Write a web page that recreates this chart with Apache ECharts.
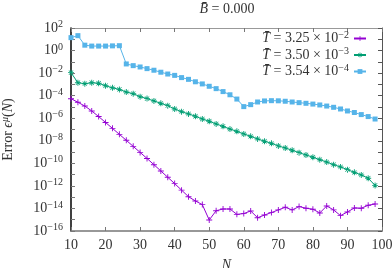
<!DOCTYPE html>
<html><head><meta charset="utf-8">
<script src="https://cdn.jsdelivr.net/npm/echarts@6/dist/echarts.min.js"></script>
<style>html,body{margin:0;padding:0;background:#fff}#c{width:392px;height:268px}</style>
</head><body><div id="c"></div>
<script>
var N = [10,12,14,16,18,20,22,24,26,28,30,32,34,36,38,40,42,44,46,48,50,52,54,56,58,60,62,64,66,68,70,72,74,76,78,80,82,84,86,88,90,92,94,96,98];
var errPurple = [5.4e-5,2.6e-5,1.2e-5,4.4e-6,1.4e-6,4.2e-7,1.26e-7,3.7e-8,1.1e-8,3.2e-9,9.3e-10,2.7e-10,7.6e-11,2.1e-11,5.8e-12,1.6e-12,4.2e-13,1.1e-13,4.6e-14,2.2e-14,9.5e-16,6.3e-15,8.9e-15,8.9e-15,3.0e-15,3.5e-15,6.0e-15,1.5e-15,2.6e-15,4.3e-15,7.4e-15,1.26e-14,7.4e-15,1.45e-14,1.05e-14,8.5e-15,4.0e-15,1.66e-14,7.4e-15,2.3e-15,4.9e-15,1.1e-14,1.05e-14,1.9e-14,2.5e-14];
var errGreen = [1.1e-2,1.4e-3,1.15e-3,1.4e-3,1.26e-3,7.6e-4,5.0e-4,3.6e-4,2.1e-4,1.5e-4,8.1e-5,5.5e-5,3.4e-5,2.1e-5,1.3e-5,6.6e-6,3.8e-6,2.4e-6,1.5e-6,8.5e-7,5.4e-7,3.1e-7,1.9e-7,1.1e-7,6.9e-8,4.0e-8,2.5e-8,1.45e-8,9.1e-9,6.0e-9,3.5e-9,2.3e-9,1.45e-9,8.9e-10,5.5e-10,3.5e-10,2.1e-10,1.3e-10,7.6e-11,4.8e-11,2.75e-11,1.6e-11,9.3e-12,4.8e-12,1.1e-12];
var errBlue = [14,21,3.0,2.5,2.5,2.5,2.6,2.7,6.5e-2,4.6e-2,3.5e-2,2.5e-2,1.8e-2,1.2e-2,8.3e-3,6.3e-3,4.0e-3,2.8e-3,1.7e-3,1.1e-3,6.8e-4,4.2e-4,2.3e-4,1.2e-4,5.0e-5,1.07e-5,1.6e-5,2.75e-5,3.4e-5,3.6e-5,3.5e-5,3.2e-5,2.75e-5,2.4e-5,2.1e-5,1.8e-5,1.5e-5,1.2e-5,9.3e-6,6.6e-6,4.4e-6,3.2e-6,2.1e-6,1.4e-6,8.5e-7];
var legendMant = ['3.25','3.50','3.54'];
var legendExp = ['−2','−3','−4'];
var titleText = '0.000';

var FONT = 'Liberation Serif';
var FS = 14;
var SP = '\u2005';
var colors = ['#9400d3','#009e73','#56b4e9'];
var symPlus = 'path://M-1,-0.15H1V0.15H-1Z M-0.15,-1H0.15V1H-0.15Z';
var symStar = 'path://M-1,-0.15H1V0.15H-1Z M-0.15,-1H0.15V1H-0.15Z M-0.8,-0.65L-0.65,-0.8L0.8,0.65L0.65,0.8Z M0.8,-0.65L0.65,-0.8L-0.8,0.65L-0.65,0.8Z';
var symbols = [symPlus, symStar, 'rect'];
var symSizes = [6, 6, 5];
var names = legendMant.map(function(m,i){return 'T'+i;});
var datasets = [errPurple, errGreen, errBlue];

function pairs(arr){ return N.map(function(n,i){return [n, arr[i]];}); }

var series = datasets.map(function(d,i){
  return {
    name: names[i], type:'line', data: pairs(d),
    symbol: symbols[i], symbolSize: symSizes[i],
    lineStyle:{color:colors[i], width:1},
    itemStyle:{color:colors[i]},
    showAllSymbol:true, animation:false, z: 3+i
  };
});

var supStyle = {fontFamily:FONT, fontSize:10, color:'#333', verticalAlign:'top', padding:[0,0,7,0]};
var rich = {
  b:{fontFamily:FONT, fontSize:FS, color:'#333'},
  s:supStyle
};

var chart = echarts.init(document.getElementById('c'));
chart.setOption({
  animation:false,
  title:{
    text:'{i|B̄}'+SP+'='+SP+titleText, left:227, top:2, padding:0, textAlign:'center',
    textStyle:{fontFamily:FONT, fontSize:FS, fontWeight:'normal', color:'#333',
      rich:{i:{fontFamily:FONT, fontStyle:'italic', fontSize:FS, color:'#333'}}}
  },
  grid:{left:71, right:10, top:28, bottom:37, containLabel:false, outerBoundsMode:'none'},
  legend:{
    orient:'vertical', right:25, top:30, align:'right', itemGap:1,
    itemWidth:12, itemHeight:6, padding:0,
    data: names,
    formatter:function(n){
      var i = names.indexOf(n);
      return '{i|T̄}'+SP+'='+SP+legendMant[i]+SP+'×'+SP+'10{s|'+legendExp[i]+'}';
    },
    textStyle:{fontFamily:FONT, fontSize:FS, color:'#333',
      rich:{
        i:{fontFamily:FONT, fontStyle:'italic', fontSize:FS, color:'#333'},
        s:supStyle
      }}
  },
  xAxis:[{
    type:'value', min:10, max:100, interval:10,
    name:'N', nameLocation:'middle', nameGap:27,
    nameTextStyle:{fontFamily:FONT, fontStyle:'italic', fontSize:FS, color:'#333'},
    axisLine:{show:true, onZero:false, lineStyle:{color:'#777', width:1.5}},
    axisTick:{show:true, inside:true, length:4, lineStyle:{color:'#777'}},
    axisLabel:{fontFamily:FONT, fontSize:FS, color:'#333', margin:7},
    splitLine:{show:false}
  },{
    type:'value', min:10, max:100, interval:10, position:'top',
    axisLine:{show:true, onZero:false, lineStyle:{color:'#999', width:1}},
    axisTick:{show:true, inside:true, length:4, lineStyle:{color:'#777'}},
    axisLabel:{show:false}, splitLine:{show:false}
  }],
  yAxis:[{
    type:'log', logBase:10, min:1e-16, max:1e2, interval:1,
    name:'{b|Error }{i|ϵ}{s|μ}{b|(}{i|N}{b|)}', nameLocation:'middle', nameGap:54, nameRotate:90,
    nameTextStyle:{rich:{
      b:{fontFamily:FONT, fontSize:FS, color:'#333'},
      i:{fontFamily:FONT, fontStyle:'italic', fontSize:FS, color:'#333'},
      s:{fontFamily:FONT, fontStyle:'italic', fontSize:10, color:'#333', verticalAlign:'top', padding:[0,0,7,0]}
    }},
    axisLine:{show:true, onZero:false, lineStyle:{color:'#000', width:1.5}},
    axisTick:{show:true, inside:true, length:4, lineStyle:{color:'#777'}},
    axisLabel:{margin:8, formatter:function(v){
      var e = Math.round(Math.log10(v));
      if (e % 2 !== 0) return '';
      var es = e < 0 ? '−'+(-e) : ''+e;
      return '{b|10}{s|'+es+'}';
    }, rich:rich},
    splitLine:{show:false}
  },{
    type:'log', logBase:10, min:1e-16, max:1e2, interval:1, position:'right',
    axisLine:{show:true, onZero:false, lineStyle:{color:'#555', width:1}},
    axisTick:{show:true, inside:true, length:4, lineStyle:{color:'#555'}},
    axisLabel:{show:false}, splitLine:{show:false}
  }],
  series: series
});
</script></body></html>
